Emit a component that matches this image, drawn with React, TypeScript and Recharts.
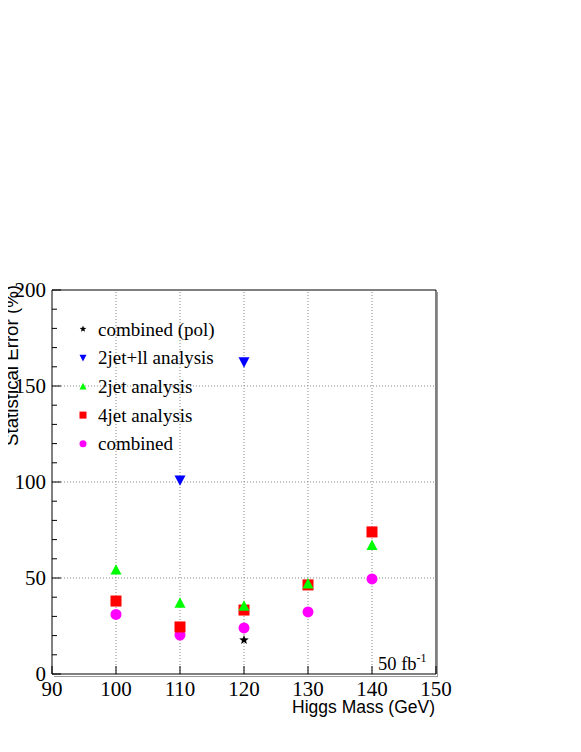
import React from 'react';
import { ScatterChart, Scatter, XAxis, YAxis, ReferenceLine } from 'recharts';

// ---- data ----
const masses = [100, 110, 120, 130, 140];
const combinedPolMass = [120];
const combinedPolVals = [17.7];
const jet2llMass = [110, 120];
const jet2llVals = [101, 162.5];
const jet2Vals = [54.2, 37, 35.4, 47, 67];
const jet4Vals = [38, 24.5, 33.3, 46.4, 74];
const combinedVals = [31, 20.3, 24, 32.3, 49.5];

const xTicks = [90, 100, 110, 120, 130, 140, 150];
const yTicks = [0, 10, 20, 30, 40, 50, 60, 70, 80, 90, 100, 110, 120, 130, 140, 150, 160, 170, 180, 190, 200];
const xGrid = [100, 110, 120, 130, 140];
const yGrid = [50, 100, 150];
const yLabelled = [0, 50, 100, 150, 200];

const legendNames = ['combined (pol)', '2jet+ll analysis', '2jet analysis', '4jet analysis', 'combined'];
const lumiLabel = '50 fb';
const lumiExp = '-1';

const W = 581;
const H = 744;
const SERIF = "'Liberation Serif', 'Times New Roman', serif";
const SANS = "'Liberation Sans', Arial, sans-serif";

type Kind = 'star' | 'down' | 'up' | 'square' | 'circle';

function markerPath(kind: Kind, cx: number, cy: number, s: number, color: string) {
  const h = s / 2;
  if (kind === 'circle') return <circle cx={cx} cy={cy} r={h} fill={color} />;
  if (kind === 'square') return <rect x={cx - h} y={cy - h} width={s} height={s} fill={color} />;
  if (kind === 'up')
    return <path d={`M${cx},${cy - h * 1.05} L${cx + h},${cy + h * 0.85} L${cx - h},${cy + h * 0.85} Z`} fill={color} />;
  if (kind === 'down')
    return <path d={`M${cx},${cy + h * 1.05} L${cx + h},${cy - h * 0.85} L${cx - h},${cy - h * 0.85} Z`} fill={color} />;
  const pts: string[] = [];
  for (let i = 0; i < 10; i++) {
    const r = i % 2 === 0 ? h : h * 0.42;
    const a = -Math.PI / 2 + (i * Math.PI) / 5;
    pts.push(`${cx + r * Math.cos(a)},${cy + r * Math.sin(a)}`);
  }
  return <polygon points={pts.join(' ')} fill={color} />;
}

const series: { name: string; kind: Kind; color: string; size: number; data: { m: number; v: number }[] }[] = [
  { name: legendNames[4], kind: 'circle', color: '#ff00ff', size: 11, data: masses.map((m, i) => ({ m, v: combinedVals[i] })) },
  { name: legendNames[3], kind: 'square', color: '#ff0000', size: 11, data: masses.map((m, i) => ({ m, v: jet4Vals[i] })) },
  { name: legendNames[2], kind: 'up', color: '#00ff00', size: 11, data: masses.map((m, i) => ({ m, v: jet2Vals[i] })) },
  { name: legendNames[1], kind: 'down', color: '#0000ff', size: 11, data: jet2llMass.map((m, i) => ({ m, v: jet2llVals[i] })) },
  { name: legendNames[0], kind: 'star', color: '#000000', size: 10, data: combinedPolMass.map((m, i) => ({ m, v: combinedPolVals[i] })) },
];

const legendOrder = [4, 3, 2, 1, 0];

const YTick = (props: any) => {
  const { x, y, payload } = props;
  const v = payload.value;
  const major = yLabelled.includes(v);
  return (
    <g>
      <line x1={x} x2={x + (major ? 9 : 5)} y1={y} y2={y} stroke="#000" strokeWidth={1} />
      {major && (
        <text x={x - 6} y={y} textAnchor="end" dominantBaseline="central" style={{ fontFamily: SERIF, fontSize: 21 }} fill="#000">
          {v}
        </text>
      )}
    </g>
  );
};

const XTick = (props: any) => {
  const { x, y, payload } = props;
  const v = payload.value;
  return (
    <g>
      <line x1={x} x2={x} y1={y} y2={y - 8} stroke="#000" strokeWidth={1} />
      <text x={x} y={y + 22} textAnchor="middle" style={{ fontFamily: SERIF, fontSize: 21 }} fill="#000">
        {v}
      </text>
    </g>
  );
};

export default function App() {
  return (
    <div style={{ position: 'relative', width: W, height: H, marginLeft: -8, marginTop: -8 }}>
      <ScatterChart width={W} height={H} margin={{ top: 290, right: 145, bottom: 30, left: 0 }}>
        <XAxis
          type="number"
          dataKey="m"
          domain={[90, 150]}
          ticks={xTicks}
          interval={0}
          height={40}
          tickSize={0}
          tickMargin={0}
          tickLine={false}
          tick={<XTick />}
          axisLine={{ stroke: '#000', strokeWidth: 1 }}
          allowDataOverflow
        />
        <YAxis
          type="number"
          dataKey="v"
          domain={[0, 200]}
          ticks={yTicks}
          interval={0}
          width={52}
          tickSize={0}
          tickMargin={0}
          tickLine={false}
          tick={<YTick />}
          axisLine={{ stroke: '#000', strokeWidth: 1 }}
          allowDataOverflow
        />
        {xGrid.map((g) => (
          <ReferenceLine key={'x' + g} x={g} stroke="#888" strokeDasharray="1 2" />
        ))}
        {yGrid.map((g) => (
          <ReferenceLine key={'y' + g} y={g} stroke="#888" strokeDasharray="1 2" />
        ))}
        <ReferenceLine x={150} stroke="#000" />
        <ReferenceLine y={200} stroke="#000" />
        {series.map((s) => (
          <Scatter
            key={s.name}
            name={s.name}
            data={s.data}
            isAnimationActive={false}
            shape={(p: any) => markerPath(s.kind, p.cx, p.cy, s.size, s.color)}
          />
        ))}
      </ScatterChart>
      <svg width={W} height={H} style={{ position: 'absolute', left: 0, top: 0, pointerEvents: 'none', overflow: 'visible' }}>
        <line x1={437.5} x2={437.5} y1={292} y2={676.5} stroke="#999" strokeWidth={1} />
        <line x1={54} x2={438} y1={676.5} y2={676.5} stroke="#999" strokeWidth={1} />
        <text
          x={17.5}
          y={285}
          transform="rotate(-90 17.5 285)"
          textAnchor="end"
          style={{ fontFamily: SANS, fontSize: 18.7 }}
          fill="#000"
        >
          Statistical Error (%)
        </text>
        <text x={435} y={713} textAnchor="end" style={{ fontFamily: SANS, fontSize: 17.5 }} fill="#000">
          Higgs Mass (GeV)
        </text>
        <text x={378} y={670} style={{ fontFamily: SERIF, fontSize: 18.5 }} fill="#000">
          {lumiLabel}
          <tspan style={{ fontSize: 12 }} dy={-8}>{lumiExp}</tspan>
        </text>
        {legendOrder.map((idx, row) => {
          const s = series[idx];
          const cy = 329 + row * 28.7;
          return (
            <g key={s.name}>
              {markerPath(s.kind, 83, cy, 7, s.color)}
              <text x={98} y={cy + 6.5} style={{ fontFamily: SERIF, fontSize: 19 }} fill="#000">
                {s.name}
              </text>
            </g>
          );
        })}
      </svg>
    </div>
  );
}
